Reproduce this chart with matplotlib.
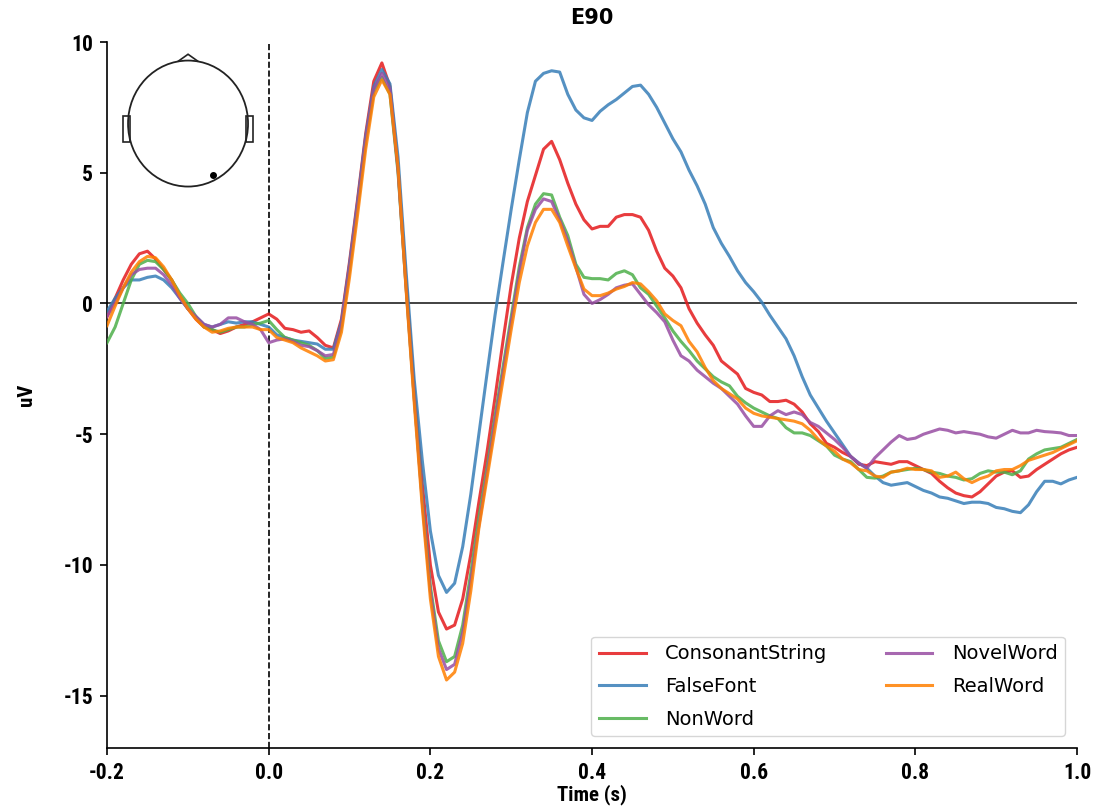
import numpy as np
import matplotlib
matplotlib.use('Agg')
import matplotlib.pyplot as plt
from matplotlib.patches import Circle, Polygon, Rectangle
from matplotlib import font_manager

# time axis, -0.2 s to 1.0 s in 10 ms steps
times = np.arange(-20, 101) / 100.0

conditions = ['ConsonantString', 'FalseFont', 'NonWord', 'NovelWord', 'RealWord']
colors = ['#e41a1c', '#377eb8', '#4daf4a', '#984ea3', '#ff7f00']

consonant_string = [
    -0.5, 0.2, 0.9, 1.5, 1.9, 2.0, 1.7, 1.3, 0.9, 0.3, -0.2, -0.6, -0.9, -1.0, -1.15, -1.05, -0.9, -0.8, -0.7, -0.55,
    -0.4, -0.6, -0.95, -1.0, -1.1, -1.05, -1.3, -1.6, -1.7, -0.6,
    1.6, 4.0, 6.5, 8.5, 9.2, 8.3, 5.2, 0.8, -3.3, -6.9,
    -10.0, -11.8, -12.45, -12.3, -11.3, -9.6, -7.6, -5.7, -3.6, -1.4,
    0.7, 2.5, 3.9, 4.9, 5.9, 6.2, 5.5, 4.6, 3.8, 3.2,
    2.85, 2.95, 2.95, 3.3, 3.4, 3.4, 3.3, 2.8, 2.0, 1.35,
    1.05, 0.6, -0.2, -0.75, -1.2, -1.6, -2.2, -2.45, -2.7, -3.25,
    -3.4, -3.5, -3.75, -3.75, -3.7, -3.85, -4.15, -4.6, -4.9, -5.35,
    -5.5, -5.7, -5.85, -6.15, -6.2, -6.05, -6.1, -6.15, -6.05, -6.05,
    -6.2, -6.35, -6.5, -6.8, -7.05, -7.25, -7.35, -7.4, -7.2, -6.9,
    -6.6, -6.45, -6.4, -6.65, -6.6, -6.35, -6.15, -5.95, -5.75, -5.6,
    -5.5]

false_font = [
    -0.3, 0.2, 0.6, 0.9, 0.9, 1.0, 1.05, 0.9, 0.6, 0.2, -0.2, -0.5, -0.8, -0.9, -0.8, -0.7, -0.75, -0.7, -0.7, -0.8,
    -0.9, -1.2, -1.3, -1.4, -1.45, -1.5, -1.55, -1.75, -1.75, -0.7,
    1.5, 3.9, 6.4, 8.3, 8.95, 8.4, 5.6, 1.2, -2.9, -6.0,
    -8.7, -10.4, -11.05, -10.7, -9.3, -7.3, -5.0, -2.7, -0.45, 1.6,
    3.6, 5.5, 7.3, 8.5, 8.8, 8.9, 8.85, 8.0, 7.4, 7.1,
    7.0, 7.35, 7.6, 7.8, 8.05, 8.3, 8.35, 8.0, 7.5, 6.9,
    6.3, 5.8, 5.1, 4.5, 3.8, 2.9, 2.3, 1.8, 1.25, 0.8,
    0.45, 0.05, -0.45, -0.9, -1.35, -2.0, -2.8, -3.5, -4.0, -4.5,
    -4.95, -5.4, -5.85, -6.1, -6.3, -6.6, -6.85, -6.95, -6.9, -6.85,
    -7.0, -7.15, -7.25, -7.4, -7.45, -7.55, -7.65, -7.6, -7.6, -7.65,
    -7.8, -7.85, -7.95, -8.0, -7.7, -7.2, -6.8, -6.8, -6.9, -6.75,
    -6.65]

non_word = [
    -1.5, -0.9, 0.0, 0.9, 1.5, 1.65, 1.6, 1.3, 0.9, 0.4, 0.0, -0.5, -0.9, -1.0, -1.1, -1.0, -0.9, -0.9, -0.8, -0.75,
    -0.65, -1.0, -1.3, -1.4, -1.5, -1.6, -1.8, -2.1, -2.05, -0.9,
    1.3, 3.7, 6.2, 8.1, 8.65, 8.0, 5.0, 0.6, -3.6, -7.5,
    -10.8, -12.9, -13.7, -13.5, -12.3, -10.3, -8.2, -6.3, -4.3, -2.4,
    -0.5, 1.4, 2.9, 3.8, 4.2, 4.15, 3.3, 2.6, 1.5, 1.0,
    0.95, 0.95, 0.9, 1.15, 1.25, 1.1, 0.6, 0.35, -0.1, -0.55,
    -1.05, -1.45, -1.8, -2.2, -2.5, -2.8, -3.0, -3.15, -3.55, -3.8,
    -4.0, -4.15, -4.3, -4.4, -4.75, -4.95, -4.95, -5.05, -5.25, -5.45,
    -5.8, -5.95, -6.05, -6.35, -6.65, -6.68, -6.6, -6.45, -6.4, -6.35,
    -6.3, -6.35, -6.45, -6.5, -6.6, -6.65, -6.75, -6.7, -6.5, -6.4,
    -6.45, -6.45, -6.55, -6.4, -5.95, -5.75, -5.6, -5.55, -5.5, -5.35,
    -5.2]

novel_word = [
    -0.5, 0.0, 0.6, 1.1, 1.3, 1.35, 1.35, 1.1, 0.7, 0.2, -0.2, -0.5, -0.8, -0.9, -0.8, -0.55, -0.55, -0.7, -0.8, -1.0,
    -1.5, -1.4, -1.35, -1.45, -1.6, -1.65, -1.8, -2.0, -1.95, -0.8,
    1.4, 3.8, 6.3, 8.2, 8.8, 8.2, 5.1, 0.6, -3.6, -7.6,
    -11.0, -13.2, -14.0, -13.8, -12.6, -10.6, -8.5, -6.5, -4.5, -2.6,
    -0.7, 1.2, 2.8, 3.6, 4.0, 3.9, 3.2, 2.4, 1.4, 0.35,
    0.0, 0.15, 0.35, 0.6, 0.7, 0.75, 0.35, -0.05, -0.35, -0.7,
    -1.4, -2.0, -2.2, -2.55, -2.8, -3.05, -3.25, -3.55, -3.85, -4.3,
    -4.7, -4.7, -4.3, -4.1, -4.25, -4.15, -4.25, -4.55, -4.7, -4.95,
    -5.2, -5.5, -5.85, -6.1, -6.3, -5.9, -5.6, -5.3, -5.05, -5.2,
    -5.15, -5.0, -4.9, -4.8, -4.85, -4.95, -4.9, -4.95, -5.0, -5.1,
    -5.15, -5.0, -4.85, -4.95, -4.95, -4.85, -4.9, -4.92, -4.95, -5.05,
    -5.05]

real_word = [
    -0.85, -0.1, 0.6, 1.2, 1.6, 1.8, 1.75, 1.4, 0.9, 0.3, -0.2, -0.6, -0.9, -1.1, -1.05, -0.95, -0.9, -0.9, -0.9, -1.0,
    -1.0, -1.3, -1.4, -1.5, -1.7, -1.85, -2.0, -2.2, -2.15, -1.1,
    1.0, 3.4, 5.9, 7.9, 8.55, 8.0, 5.2, 0.5, -3.8, -7.8,
    -11.3, -13.5, -14.4, -14.1, -13.0, -11.0, -8.6, -6.7, -4.8, -2.9,
    -1.0, 0.8, 2.2, 3.1, 3.6, 3.6, 3.1, 2.2, 1.35, 0.55,
    0.3, 0.3, 0.4, 0.55, 0.65, 0.8, 0.75, 0.45, 0.1, -0.4,
    -0.65, -0.85, -1.45, -1.85, -2.45, -2.95, -3.25, -3.45, -3.65, -4.0,
    -4.2, -4.3, -4.35, -4.4, -4.45, -4.5, -4.6, -4.85, -5.2, -5.45,
    -5.65, -5.95, -6.1, -6.35, -6.4, -6.6, -6.65, -6.45, -6.4, -6.3,
    -6.35, -6.35, -6.4, -6.65, -6.6, -6.45, -6.7, -6.85, -6.7, -6.6,
    -6.4, -6.35, -6.35, -6.2, -6.0, -5.9, -5.8, -5.7, -5.55, -5.4,
    -5.25]

series = [consonant_string, false_font, non_word, novel_word, real_word]

xticks = [-0.2, 0.0, 0.2, 0.4, 0.6, 0.8, 1.0]
xticklabels = ['-0.2', '0.0', '0.2', '0.4', '0.6', '0.8', '1.0']
yticks = [-15, -10, -5, 0, 5, 10]

# sensor position on the head outline
sensor_pos = (0.42, -0.81)

plt.rcParams['font.family'] = 'DejaVu Sans'
plt.rcParams['axes.unicode_minus'] = False

# narrow face for the axis text if one is installed
installed = {f.name for f in font_manager.fontManager.ttflist}
narrow = ['DejaVu Sans']
for cand in ['Liberation Sans Narrow', 'DejaVu Sans Condensed', 'Roboto Condensed']:
    if cand in installed:
        narrow = [cand, 'DejaVu Sans']
        break

fig = plt.figure(figsize=(10.99, 8.11), dpi=100)
ax = fig.add_axes([0.0974, 0.0777, 0.8826, 0.8705])

for vals, name, col in zip(series, conditions, colors):
    ax.plot(times, vals, color=col, lw=2.2, alpha=0.85, label=name, zorder=3)

ax.axhline(0, color='#333333', lw=1.3, zorder=2)
ax.axvline(0, color='black', lw=1.2, ls='--', zorder=2)

ax.set_xlim(-0.2, 1.0)
ax.set_ylim(-17, 10)
ax.set_xticks(xticks)
ax.set_xticklabels(xticklabels)
ax.set_yticks(yticks)
for lab in ax.get_xticklabels() + ax.get_yticklabels():
    lab.set_family(narrow)
    lab.set_fontweight('bold')
    lab.set_fontsize(15.5)
ax.tick_params(length=5, width=1.2, pad=5)
ax.spines['top'].set_visible(False)
ax.spines['right'].set_visible(False)
ax.spines['left'].set_linewidth(1.2)
ax.spines['bottom'].set_linewidth(1.2)

ax.set_xlabel('Time (s)', fontsize=15, fontweight='bold', family=narrow, labelpad=0)
ax.set_ylabel('uV', fontsize=15, fontweight='bold', family=narrow, labelpad=20)
ax.set_title('E90', fontsize=15, fontweight='bold', pad=13)

ax.legend(loc='lower right', ncol=2, fontsize=14, frameon=True,
          borderaxespad=0.6, columnspacing=3.0, handlelength=2.4,
          handletextpad=1.0, labelspacing=0.7)

# head outline inset with the sensor location
head = fig.add_axes([0.1074, 0.757, 0.1274, 0.1813])
head.set_xlim(-1.167, 1.167)
head.set_ylim(-1.167, 1.167)
head.axis('off')
head.add_patch(Circle((0, 0), 1.0, fill=False, lw=1.3, color='#222222'))
head.add_patch(Polygon([[-0.17, 0.985], [0, 1.1], [0.17, 0.985]], closed=False,
                       fill=False, lw=1.2, color='#222222'))
head.add_patch(Rectangle((-1.09, -0.30), 0.12, 0.42, fill=False, lw=1.2, color='#222222'))
head.add_patch(Rectangle((0.97, -0.30), 0.12, 0.42, fill=False, lw=1.2, color='#222222'))
head.plot([sensor_pos[0]], [sensor_pos[1]], 'o', color='black', ms=4)

plt.savefig('out.png', dpi=100)
